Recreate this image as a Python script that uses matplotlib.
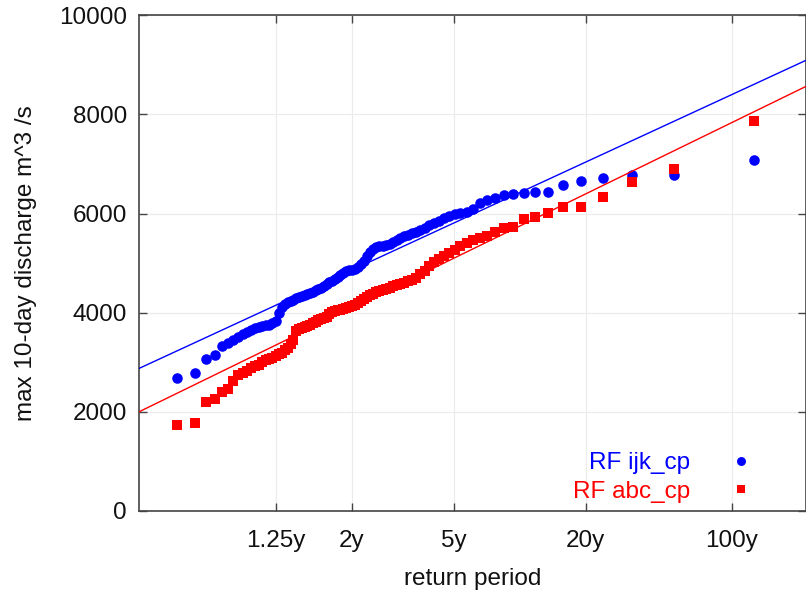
import numpy as np
import matplotlib
matplotlib.use("Agg")
import matplotlib.pyplot as plt

plt.rcParams['font.family'] = ['Liberation Sans', 'DejaVu Sans']

# ---- data (sorted annual maxima, ascending) ----
blue_label = "RF ijk_cp"
red_label = "RF abc_cp"

blue_values = [2680, 2780, 3060, 3150, 3330, 3380, 3450, 3520, 3580, 3610,
               3650, 3690, 3710, 3735, 3742, 3750, 3785, 3830, 3990, 4120,
               4185, 4210, 4235, 4260, 4290, 4320, 4345, 4365, 4385, 4405,
               4422, 4450, 4478, 4505, 4535, 4570, 4610, 4645, 4685, 4730,
               4770, 4810, 4835, 4855, 4870, 4885, 4920, 4980, 5040, 5140,
               5230, 5280, 5325, 5340, 5352, 5364, 5395, 5432, 5468, 5505,
               5543, 5577, 5604, 5630, 5672, 5716, 5762, 5809, 5857, 5909,
               5950, 5990, 6015, 6037, 6100, 6205, 6270, 6320, 6374, 6388,
               6408, 6441, 6441, 6576, 6662, 6711, 6777, 6777, 7080]

red_values = [1735, 1770, 2205, 2255, 2400, 2470, 2615, 2745, 2790, 2830,
              2875, 2915, 2955, 3000, 3040, 3070, 3095, 3120, 3160, 3195,
              3240, 3290, 3370, 3450, 3630, 3665, 3688, 3705, 3725, 3752,
              3790, 3822, 3852, 3870, 3895, 3920, 3965, 4005, 4030, 4045,
              4055, 4075, 4095, 4110, 4135, 4160, 4200, 4240, 4270, 4310,
              4350, 4380, 4410, 4440, 4462, 4482, 4505, 4530, 4555, 4580,
              4605, 4630, 4650, 4700, 4780, 4850, 4940, 5020, 5090, 5150,
              5200, 5270, 5340, 5400, 5460, 5505, 5550, 5620, 5708, 5734,
              5884, 5924, 6004, 6125, 6132, 6339, 6642, 6898, 7870]

# Gumbel fit parameters (location, scale) for the straight lines
blue_fit = (4552, 837)
red_fit = (3771, 884)

tick_periods = [1.25, 2, 5, 20, 100]
tick_labels = ["1.25y", "2y", "5y", "20y", "100y"]
y_ticks = [0, 2000, 4000, 6000, 8000, 10000]


def reduced_variate_from_T(T):
    T = np.asarray(T, dtype=float)
    return -np.log(-np.log(1.0 - 1.0 / T))


def plotting_positions(n):
    i = np.arange(1, n + 1)
    F = (i - 0.3) / (n + 0.4)
    return -np.log(-np.log(F))


fig = plt.figure(figsize=(8.06, 5.95), dpi=100)
ax = fig.add_axes([0.1728, 0.1412, 0.8272, 0.8331])

xb = plotting_positions(len(blue_values))
xr = plotting_positions(len(red_values))

ax.plot(xb, blue_values, 'o', color='#0000ff', ms=7.6, mew=0, label=blue_label, zorder=3)
ax.plot(xr, red_values, 's', color='#ff0000', ms=7.2, mew=0, label=red_label, zorder=3)

xlim = (-2.0, 5.424)
xx = np.array(xlim)
ax.plot(xx, blue_fit[0] + blue_fit[1] * xx, color='#0000ff', lw=1.0, zorder=4)
ax.plot(xx, red_fit[0] + red_fit[1] * xx, color='#ff0000', lw=1.0, zorder=4)

ax.set_xlim(*xlim)
ax.set_ylim(0, 10000)
ax.set_xticks(reduced_variate_from_T(tick_periods))
ax.set_xticklabels(tick_labels)
ax.set_yticks(y_ticks)

ax.grid(True, color='#ebebeb', lw=0.8, zorder=0)
ax.set_axisbelow(True)

for s in ax.spines.values():
    s.set_color('#444444')
    s.set_linewidth(1.2)

ax.tick_params(axis='both', direction='in', length=6, width=1.0, color='#444444',
               top=True, right=True, labelsize=17.5, labelcolor='#111111')
ax.tick_params(axis='x', pad=14)
ax.tick_params(axis='y', pad=9)

ax.set_xlabel("return period", fontsize=17.5, color='#111111', labelpad=11)
ax.set_ylabel("max 10-day discharge m^3 /s", fontsize=17.5, color='#111111', labelpad=16)

leg = ax.legend(loc='lower right', bbox_to_anchor=(0.952, -0.01), frameon=False,
                markerfirst=False, fontsize=17.5, handlelength=1.6,
                handletextpad=1.3, labelspacing=0.25, markerscale=0.85,
                borderaxespad=0.15)
for txt, col in zip(leg.get_texts(), ['#0000ff', '#ff0000']):
    txt.set_color(col)

fig.savefig("out.png", dpi=100)
